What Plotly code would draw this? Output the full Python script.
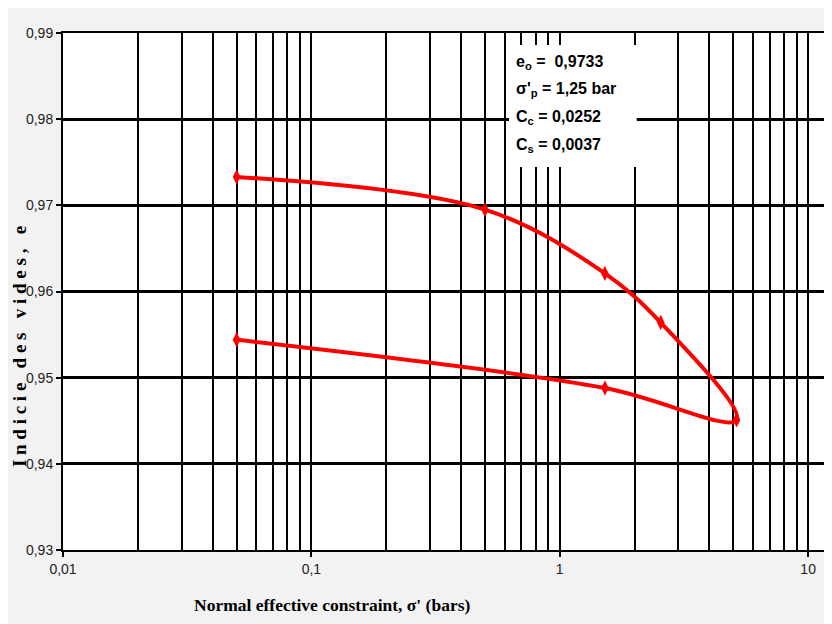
import plotly.graph_objects as go

# Data
sigma = [0.05, 0.5, 1.52, 2.55, 5.15, 1.52, 0.05]
void_ratio = [0.9733, 0.9695, 0.9621, 0.9564, 0.9451, 0.9488, 0.9544]

x_major = [0.01, 0.1, 1, 10]
x_major_text = ["0,01", "0,1", "1", "10"]
x_minor = [m * d for d in (0.01, 0.1, 1) for m in range(2, 10)]
y_ticks = [0.93, 0.94, 0.95, 0.96, 0.97, 0.98, 0.99]

info_lines = [
    "e<sub>o</sub> =  0,9733",
    "σ'<sub>p</sub> = 1,25 bar",
    "C<sub>c</sub> = 0,0252",
    "C<sub>s</sub> = 0,0037",
]
info_y = [0.942, 0.890, 0.836, 0.783]
y_title = "Indicie des vides, e"
x_title = "Normal effective constraint, σ' (bars)"

SANS = "Liberation Sans Narrow, Arial Narrow, Liberation Sans, Arial, sans-serif"
SERIF = "Liberation Serif, Times New Roman, serif"

fig = go.Figure()
fig.add_trace(go.Scatter(
    x=sigma, y=void_ratio, mode="lines+markers",
    line=dict(color="#ff0000", width=4, shape="spline", smoothing=1.0),
    marker=dict(symbol="diamond-tall", size=11, color="#ff0000"),
    showlegend=False, hoverinfo="x+y",
))

annotations = [
    dict(xref="paper", yref="paper", x=0.589, y=yy,
         xanchor="left", yanchor="middle", align="left", showarrow=False,
         text=t, font=dict(family=SANS, size=16, color="black", weight="bold"))
    for t, yy in zip(info_lines, info_y)
]
annotations += [
    dict(xref="paper", yref="paper", x=-0.0574, y=0.3926,
         xanchor="center", yanchor="middle", textangle=-90, showarrow=False,
         text="\u2005".join(y_title),
         font=dict(family=SERIF, size=19, color="black", weight="bold")),
    dict(xref="paper", yref="paper", x=0.352, y=-0.1064,
         xanchor="center", yanchor="middle", showarrow=False,
         text=x_title,
         font=dict(family=SERIF, size=17.5, color="black", weight="bold")),
]

fig.update_layout(
    width=824, height=616,
    margin=dict(l=55, r=2, t=25, b=74),
    paper_bgcolor="#f2f2f2", plot_bgcolor="white",
    separators=",.",
    xaxis=dict(
        type="log", range=[-2, 1.08],
        tickmode="array", tickvals=x_major, ticktext=x_major_text,
        showgrid=True, gridcolor="black", gridwidth=1.5,
        showline=True, linecolor="black", linewidth=2, mirror=True,
        ticks="outside", ticklen=5, tickwidth=2, tickcolor="black",
        tickfont=dict(family=SANS, size=14, color="#222"),
        minor=dict(tickmode="array", tickvals=x_minor, showgrid=True,
                   gridcolor="black", gridwidth=1.5, ticks=""),
        zeroline=False,
    ),
    yaxis=dict(
        range=[0.93, 0.99], tickmode="array", tickvals=y_ticks,
        tickformat=".2f",
        showgrid=True, gridcolor="black", gridwidth=2.5,
        showline=True, linecolor="black", linewidth=2, mirror=True,
        ticks="outside", ticklen=5, tickwidth=2, tickcolor="black",
        tickfont=dict(family=SANS, size=14, color="#222"),
        zeroline=False,
    ),
    shapes=[
        dict(type="rect", xref="paper", yref="paper",
             x0=0.583, x1=0.750, y0=0.741, y1=0.977,
             fillcolor="white", line=dict(width=0), layer="above"),
    ],
    annotations=annotations,
)

fig.write_html("out.html")
